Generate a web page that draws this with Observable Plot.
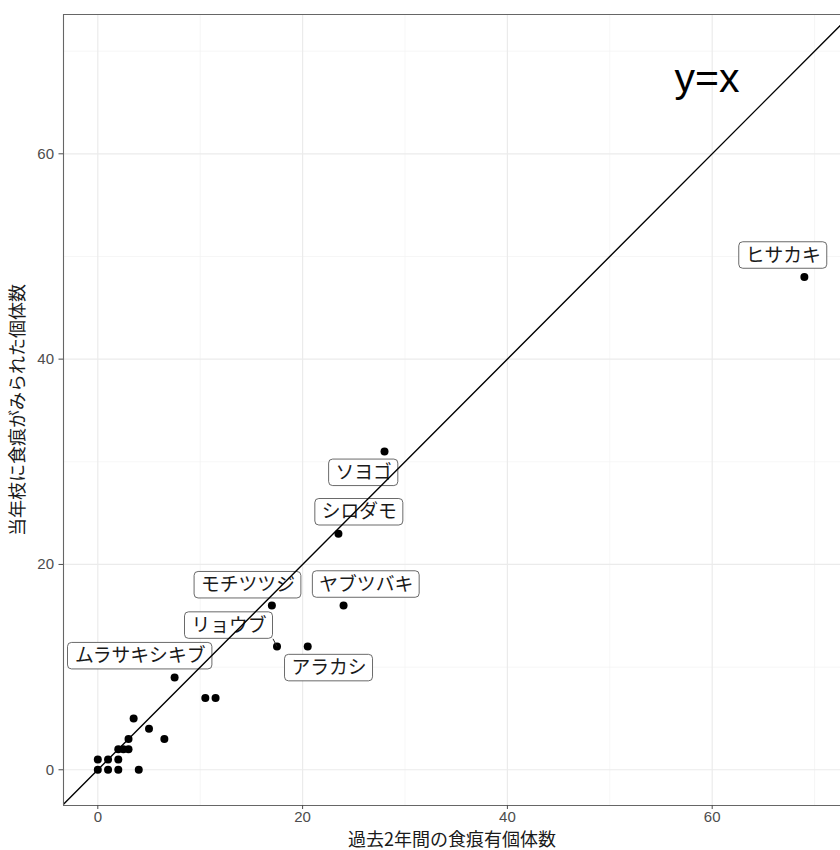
<!DOCTYPE html>
<html>
<head>
<meta charset="utf-8">
<script src="https://cdn.jsdelivr.net/npm/d3@7"></script>
<script src="https://cdn.jsdelivr.net/npm/@observablehq/plot@0.6"></script>
<style>
  html, body { margin: 0; padding: 0; background: white; }
</style>
</head>
<body>
<div id="chart"></div>
<script>
// ---- data ----
const pastCount    = [0, 0, 1, 1, 2, 2, 2, 2.5, 3, 3, 3.5, 4, 5, 6.5, 10.5, 11.5, 7.5, 17, 17.5, 20.5, 23.5, 24, 28, 69];
const currentCount = [0, 1, 0, 1, 0, 1, 2, 2,   2, 3, 5,   0, 4, 3,   7,    7,    9,   16, 12,   12,   23,   16, 31, 48];
const speciesName  = ["", "", "", "", "", "", "", "", "", "", "", "", "", "", "", "",
                      "ムラサキシキブ", "モチツツジ", "リョウブ", "アラカシ", "シロダモ", "ヤブツバキ", "ソヨゴ", "ヒサカキ"];
const leaderLabels = ["リョウブ"];
const xTicks = [0, 20, 40, 60];
const yTicks = [0, 20, 40, 60];
const minorTicks = [10, 30, 50, 70];
const xTitle = "過去2年間の食痕有個体数";
const yTitle = "当年枝に食痕がみられた個体数";
const annotText = "y=x";
const annotX = 59.5, annotY = 67.3;

// ---- layout (label repel offsets in pixels, box geometry) ----
const W = 840, H = 850;
const M = {left: 63, right: 0, top: 14, bottom: 45};
const xDomain = [-3.35, 72.53];
const yDomain = [-3.48, 73.57];
const labelOffset = {
  "ヒサカキ": [-21.1, -21.5],
  "ソヨゴ": [-20.8, 21.3],
  "シロダモ": [20.9, -21.4],
  "ヤブツバキ": [22.7, -21],
  "モチツツジ": [-23.9, -20.3],
  "リョウブ": [-48, -21],
  "アラカシ": [21.3, 21.5],
  "ムラサキシキブ": [-34.4, -21.2]
};
const labelFont = 18.8, padX = 6.4, boxH = 26.5;

const kx = (W - M.left - M.right) / (xDomain[1] - xDomain[0]);
const ky = (H - M.top - M.bottom) / (yDomain[1] - yDomain[0]);

const points = pastCount.map((x, i) => ({x, y: currentCount[i], name: speciesName[i]}));
const labeled = points.filter(d => d.name).map(d => {
  const [ox, oy] = labelOffset[d.name];
  const w = d.name.length * labelFont + 2 * padX;
  const cx = d.x + ox / kx, cy = d.y - oy / ky;
  const hw = w / 2 / kx, hh = boxH / 2 / ky;
  return {...d, cx, cy, x1: cx - hw, x2: cx + hw, y1: cy - hh, y2: cy + hh};
});
const leaders = labeled.filter(d => leaderLabels.includes(d.name)).map(d => ({
  ...d,
  sx: Math.max(d.x1, Math.min(d.x2, d.x)),
  sy: Math.max(d.y1, Math.min(d.y2, d.y))
}));

const chart = Plot.plot({
  width: W, height: H,
  marginLeft: M.left, marginRight: M.right, marginTop: M.top, marginBottom: M.bottom,
  x: {domain: xDomain, label: null},
  y: {domain: yDomain, label: null},
  style: {fontFamily: "'Liberation Sans', 'Noto Sans CJK JP', sans-serif", background: "white"},
  marks: [
    Plot.ruleX(minorTicks, {stroke: "#f2f2f2", strokeWidth: 0.7}),
    Plot.ruleY(minorTicks, {stroke: "#f2f2f2", strokeWidth: 0.7}),
    Plot.ruleX(xTicks, {stroke: "#ebebeb", strokeWidth: 1.2}),
    Plot.ruleY(yTicks, {stroke: "#ebebeb", strokeWidth: 1.2}),
    Plot.dot(points, {x: "x", y: "y", r: 4, fill: "black", stroke: "none"}),
    Plot.link(leaders, {x1: "sx", y1: "sy", x2: "x", y2: "y", stroke: "#222", strokeWidth: 1}),
    Plot.rect(labeled, {x1: "x1", x2: "x2", y1: "y1", y2: "y2", fill: "white", stroke: "#444", strokeWidth: 0.8, rx: 4}),
    Plot.text(labeled, {x: "cx", y: "cy", text: "name", fontSize: labelFont, fill: "#1a1a1a",
      fontFamily: "'Noto Sans CJK JP', sans-serif", lineAnchor: "middle"}),
    Plot.line(xDomain, {x: d => d, y: d => d, stroke: "black", strokeWidth: 1.4, clip: true}),
    Plot.text([annotText], {x: () => annotX, y: () => annotY, text: d => d, fontSize: 41, fill: "black",
      fontFamily: "'Liberation Sans', sans-serif", lineAnchor: "middle"}),
    Plot.ruleX([xDomain[0]], {stroke: "#666", strokeWidth: 1.1}),
    Plot.ruleY(yDomain, {stroke: "#666", strokeWidth: 1.1}),
    Plot.axisX(xTicks, {tickSize: 4, tickPadding: 2, fontSize: 15, color: "#4d4d4d", label: null}),
    Plot.axisY(yTicks, {tickSize: 4.5, tickPadding: 5, fontSize: 15, color: "#4d4d4d", label: null}),
    Plot.text([xTitle], {frameAnchor: "bottom", dy: 35, text: d => d, fontSize: 18, fill: "#1a1a1a",
      fontFamily: "'Noto Sans CJK JP', sans-serif", textAnchor: "middle", lineAnchor: "middle"}),
    Plot.text([yTitle], {frameAnchor: "left", dx: -45, rotate: -90, text: d => d, fontSize: 18, fill: "#1a1a1a",
      fontFamily: "'Noto Sans CJK JP', sans-serif", textAnchor: "middle", lineAnchor: "middle"})
  ]
});
document.getElementById("chart").appendChild(chart);
</script>
</body>
</html>
